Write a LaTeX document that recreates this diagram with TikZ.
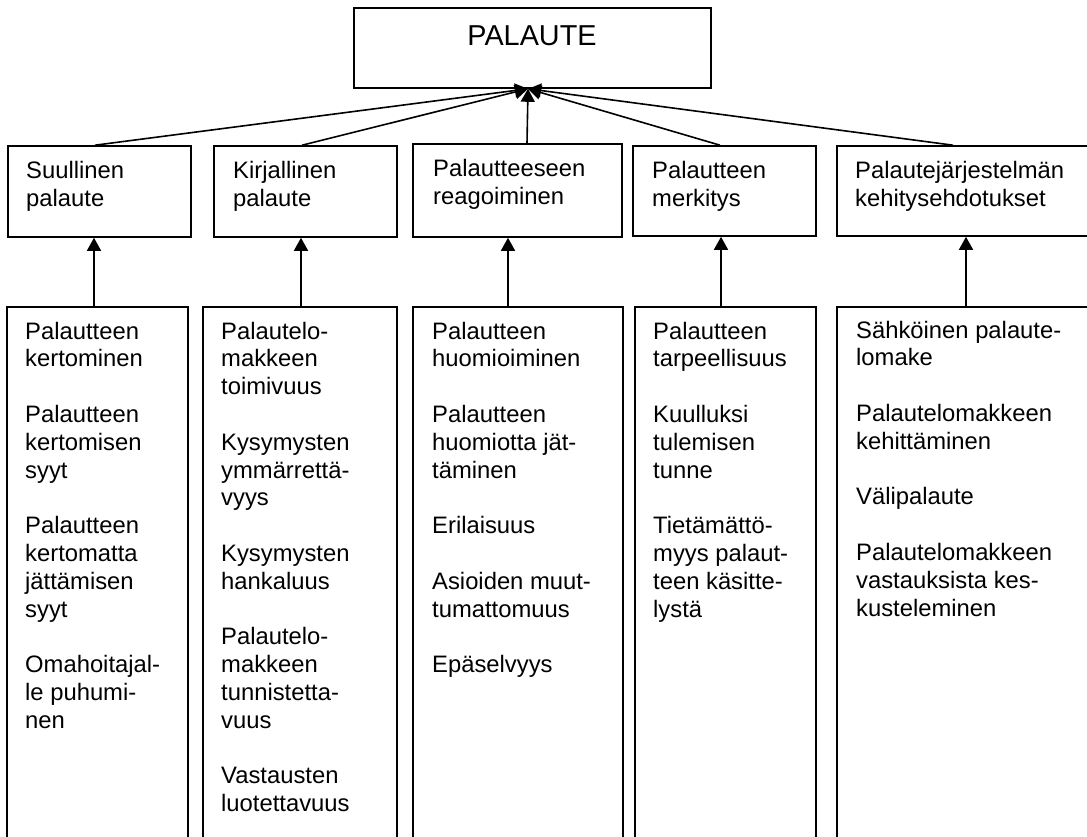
\documentclass[tikz,border=0pt]{standalone}
\usepackage{fontspec}
\setmainfont{Liberation Sans}
\usetikzlibrary{arrows.meta,calc}
\newcommand{\txtblock}[1]{\begin{tabular}[t]{@{}l@{}}#1\end{tabular}}
\begin{document}
\begin{tikzpicture}[x=1pt,y=-1pt,
  box/.style={draw,line width=1.6pt,inner sep=0pt},
  body/.style={inner sep=0pt,anchor=base west,font=\fontsize{23.8}{27.8}\selectfont},
  title/.style={inner sep=0pt,anchor=base,font=\fontsize{28.8}{34}\selectfont},
  arr/.style={line width=1.6pt,-{Triangle[length=13pt,width=14pt]}}]
\useasboundingbox (0,0) rectangle (1087,837);
\clip (0,0) rectangle (1087,837);

% main box
\node[box,minimum width=357,minimum height=80] (pal) at (532.5,48) {};
\node[title] (palt) at (532,45.7) {PALAUTE};

% category boxes
\node[box,minimum width=183,minimum height=91] (t1) at (99.5,191.5) {};
\node[box,minimum width=183,minimum height=91] (t2) at (305.5,191.5) {};
\node[box,minimum width=209,minimum height=93] (t3) at (517.5,190.5) {};
\node[box,minimum width=183,minimum height=90] (t4) at (724.5,191) {};
\node[box,minimum width=263,minimum height=90] (t5) at (968.5,191) {};

\node[body] (t1t) at (26,179) {\txtblock{Suullinen\\palaute}};
\node[body] (t2t) at (233,179) {\txtblock{Kirjallinen\\palaute}};
\node[body] (t3t) at (433,177) {\txtblock{Palautteeseen\\reagoiminen}};
\node[body] (t4t) at (652,179) {\txtblock{Palautteen\\merkitys}};
\node[body] (t5t) at (855,179) {\txtblock{Palautejärjestelmän\\kehitysehdotukset}};

% detail boxes
\node[box,minimum width=181,minimum height=593] (b1) at (97.5,603.5) {};
\node[box,minimum width=194,minimum height=593] (b2) at (300,603.5) {};
\node[box,minimum width=210,minimum height=593] (b3) at (518,603.5) {};
\node[box,minimum width=181,minimum height=593] (b4) at (725.5,603.5) {};
\node[box,minimum width=263,minimum height=593] (b5) at (968.5,603.5) {};

\node[body] (b1t) at (25,339) {\txtblock{Palautteen\\kertominen\\ \\Palautteen\\kertomisen\\syyt\\ \\Palautteen\\kertomatta\\jättämisen\\syyt\\ \\Omahoitajal-\\le puhumi-\\nen}};
\node[body] (b2t) at (221,339) {\txtblock{Palautelo-\\makkeen\\toimivuus\\ \\Kysymysten\\ymmärrettä-\\vyys\\ \\Kysymysten\\hankaluus\\ \\Palautelo-\\makkeen\\tunnistetta-\\vuus\\ \\Vastausten\\luotettavuus}};
\node[body] (b3t) at (432,339) {\txtblock{Palautteen\\huomioiminen\\ \\Palautteen\\huomiotta jät-\\täminen\\ \\Erilaisuus\\ \\Asioiden muut-\\tumattomuus\\ \\Epäselvyys}};
\node[body] (b4t) at (653,339) {\txtblock{Palautteen\\tarpeellisuus\\ \\Kuulluksi\\tulemisen\\tunne\\ \\Tietämättö-\\myys palaut-\\teen käsitte-\\lystä}};
\node[body] (b5t) at (856,338) {\txtblock{Sähköinen palaute-\\lomake\\ \\Palautelomakkeen\\kehittäminen\\ \\Välipalaute\\ \\Palautelomakkeen\\vastauksista kes-\\kusteleminen}};

% connectors: detail -> category
\draw[arr] ([xshift=-3.5]b1.north) -- ([xshift=-5.5]t1.south);
\draw[arr] ([xshift=1]b2.north) -- ([xshift=-4.5]t2.south);
\draw[arr] ([xshift=-10]b3.north) -- ([xshift=-9.5]t3.south);
\draw[arr] ([xshift=-4.5]b4.north) -- ([xshift=-3.5]t4.south);
\draw[arr] ([xshift=-2.5]b5.north) -- ([xshift=-2.5]t5.south);

% connectors: category -> main
\draw[arr] ([xshift=-4.5]t1.north) -- ([xshift=-4.5]pal.south);
\draw[arr] ([xshift=-3.5]t2.north) -- ([xshift=-4.5]pal.south);
\draw[arr] ([xshift=9.5]t3.north) -- ([xshift=-4.5]pal.south);
\draw[arr] ([xshift=-4.5]t4.north) -- ([xshift=-4.5]pal.south);
\draw[arr] ([xshift=-15.5]t5.north) -- ([xshift=-4.5]pal.south);
\end{tikzpicture}
\end{document}
